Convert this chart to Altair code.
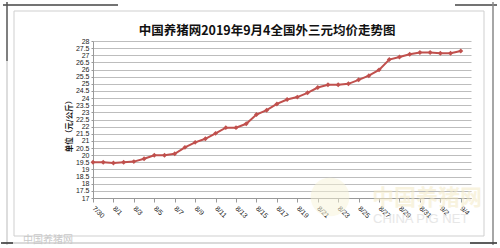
import altair as alt
import pandas as pd

dates = ["7/30", "7/31", "8/1", "8/2", "8/3", "8/4", "8/5", "8/6", "8/7", "8/8",
         "8/9", "8/10", "8/11", "8/12", "8/13", "8/14", "8/15", "8/16", "8/17", "8/18",
         "8/19", "8/20", "8/21", "8/22", "8/23", "8/24", "8/25", "8/26", "8/27", "8/28",
         "8/29", "8/30", "8/31", "9/1", "9/2", "9/3", "9/4"]
prices = [19.5, 19.5, 19.45, 19.5, 19.55, 19.75, 20.0, 20.0, 20.1, 20.55,
          20.9, 21.15, 21.53, 21.93, 21.93, 22.2, 22.85, 23.15, 23.59, 23.9,
          24.07, 24.37, 24.74, 24.93, 24.93, 25.0, 25.28, 25.57, 25.98, 26.7,
          26.88, 27.07, 27.19, 27.19, 27.14, 27.14, 27.3]
tick_labels = dates[::2]
y_ticks = [17 + 0.5 * k for k in range(23)]

title_text = "中国养猪网2019年9月4全国外三元均价走势图"
y_title = "单位（元/公斤）"

df = pd.DataFrame({"i": list(range(len(dates))), "date": dates, "price": prices})
one = pd.DataFrame({"a": [0]})

label_arr = "[" + ",".join("'" + s + "'" for s in tick_labels) + "]"

RED = "#C0504D"

x_enc = alt.X("i:Q",
              scale=alt.Scale(domain=[0, 37], nice=False, zero=False),
              axis=alt.Axis(values=list(range(0, 37, 2)), tickCount=100,
                            labelExpr=label_arr + "[round(datum.value/2)]",
                            labelAngle=45, labelAlign="left", labelBaseline="middle",
                            labelOverlap=False, labelFlush=False,
                            labelPadding=5, labelFontSize=7, labelColor="#222",
                            labelFont="Liberation Sans",
                            grid=False, tickSize=4, tickColor="#999",
                            domainColor="#999", title=None))
y_enc = alt.Y("price:Q",
              scale=alt.Scale(domain=[17, 28], nice=False, zero=False),
              axis=alt.Axis(values=y_ticks, tickCount=100, format=".1~f",
                            labelOverlap=False, labelFlush=False,
                            labelFontSize=7, labelColor="#222", labelFont="Liberation Sans",
                            labelPadding=2, tickSize=2, tickColor="#999",
                            domainColor="#999", gridColor="#bdbdbd", gridWidth=1,
                            title=y_title, titleFontSize=7.5, titleFontWeight="bold",
                            titleFont="Noto Sans CJK SC", titleColor="#111",
                            titleX=-24, titleY=83, titleAlign="center",
                            titleBaseline="middle", titleAngle=-90))

line = alt.Chart(df).mark_line(color=RED, strokeWidth=2).encode(x=x_enc, y=y_enc)
pts = alt.Chart(df).mark_point(shape="diamond", filled=True, size=24, color=RED,
                               opacity=1).encode(x="i:Q", y="price:Q")

def rule(x1, x2, y1, y2, color, w=1.0):
    return alt.Chart(one).mark_rule(color=color, strokeWidth=w).encode(
        x=alt.value(x1), x2=alt.value(x2), y=alt.value(y1), y2=alt.value(y2))

# frame decorations (offsets relative to plot origin at 93,41)
box = alt.Chart(one).mark_rect(filled=False, stroke="#cfcfcf", strokeWidth=1).encode(
    x=alt.value(-79), x2=alt.value(391), y=alt.value(-30), y2=alt.value(195))
frame = [
    rule(-90, 25, -36, -36, "#444", 1.5),
    rule(362, 404, -36, -36, "#444", 1.5),
    rule(-86, -86, -39, 20, "#555", 1.5),
    rule(-86, -86, 20, 204, "#bbb", 1),
    rule(400, 400, -39, 204, "#888", 1.5),
    rule(-90, 404, 202, 202, "#b5b5b5", 1),
    rule(377, 404, 202, 202, "#333", 1.5),
    rule(-92, -80, 202, 202, "#333", 1.5),
]

title = alt.Chart(one).mark_text(text=title_text, fontSize=12.5, fontWeight="bold",
                                  font="Noto Sans CJK SC", color="#111",
                                  align="center", baseline="alphabetic").encode(
    x=alt.value(174), y=alt.value(-6))

circle = alt.Chart(one).mark_point(shape="circle", filled=True, size=1500,
                                    color="#f8f3d8", opacity=0.5).encode(
    x=alt.value(237), y=alt.value(156))
wm_cn = alt.Chart(one).mark_text(text="中国养猪网", fontSize=22, fontWeight="bold",
                                  font="Noto Sans CJK SC", color="#f4eac6", opacity=0.55,
                                  align="left", baseline="middle").encode(
    x=alt.value(279), y=alt.value(157))
wm_en = alt.Chart(one).mark_text(text="CHINA PIG NET", fontSize=13, font="Liberation Sans",
                                  color="#e2e2e2", opacity=0.8, align="left",
                                  baseline="middle").encode(
    x=alt.value(280), y=alt.value(178))
wm_bl = alt.Chart(one).mark_text(text="中国养猪网", fontSize=10, font="Noto Sans CJK SC",
                                  color="#c9c9c9", align="left", baseline="middle").encode(
    x=alt.value(-70), y=alt.value(199))

chart = alt.layer(box, *frame, title, circle, wm_cn, wm_en, wm_bl, line, pts).properties(
    width=378, height=157,
    autosize=alt.AutoSizeParams(type="none"),
    padding={"left": 93, "top": 41, "right": 29, "bottom": 50},
    background="white",
).configure_view(stroke=None)

chart.save("out.html", embed_options={"renderer": "svg", "actions": False})
